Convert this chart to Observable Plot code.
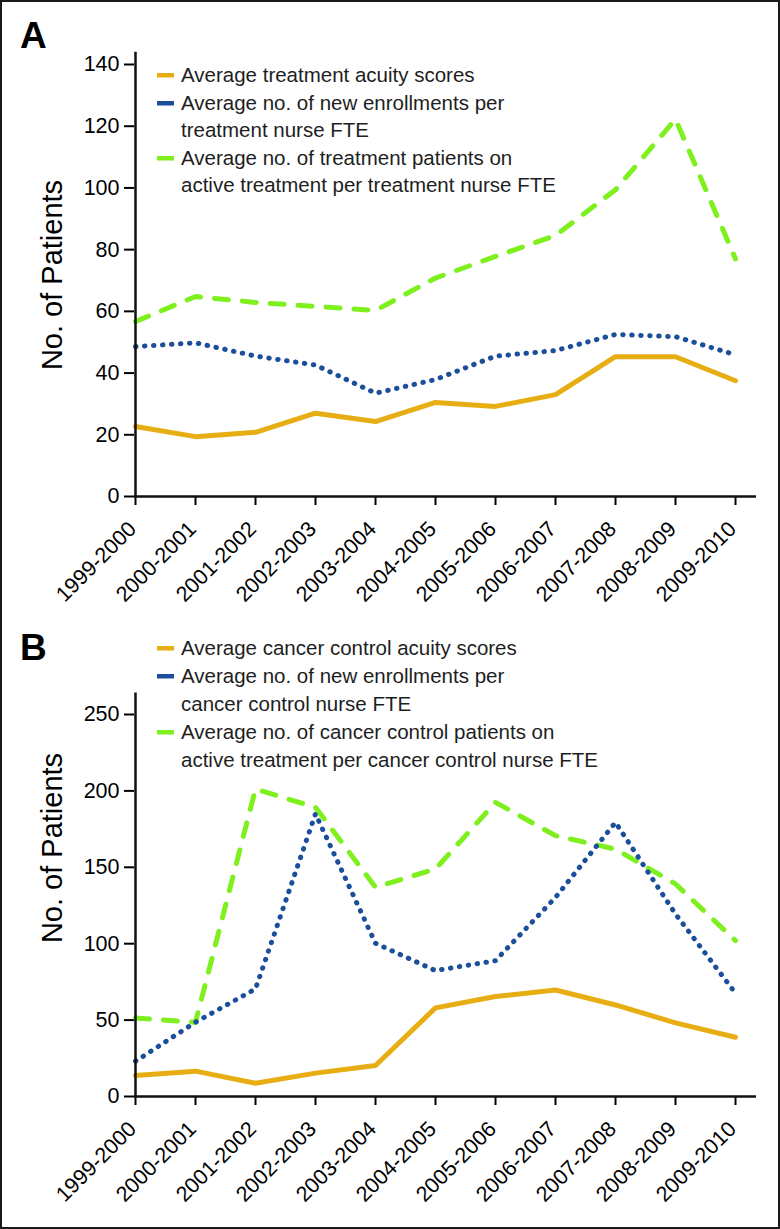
<!DOCTYPE html>
<html>
<head>
<meta charset="utf-8">
<script src="https://cdn.jsdelivr.net/npm/d3@7"></script>
<script src="https://cdn.jsdelivr.net/npm/@observablehq/plot@0.6"></script>
<style>
  html, body { margin: 0; padding: 0; background: #fff; }
  #fig { position: relative; width: 780px; height: 1229px; overflow: hidden; background: #fff; }
  #fig > svg { position: absolute; left: 0; }
  svg.panel text { font-size: 21.5px !important; fill: #000; }
</style>
</head>
<body>
<div id="fig"></div>
<script>
// ---- data ----
const seasons = ["1999-2000","2000-2001","2001-2002","2002-2003","2003-2004","2004-2005","2005-2006","2006-2007","2007-2008","2008-2009","2009-2010"];

const aAcuity = [22.7, 19.4, 20.8, 27.0, 24.3, 30.5, 29.2, 33.0, 45.3, 45.3, 37.5];
const aEnroll = [48.6, 49.8, 45.5, 42.6, 33.5, 37.9, 45.5, 47.3, 52.5, 51.8, 45.9];
const aActive = [56.7, 64.8, 62.9, 61.6, 60.3, 70.8, 77.8, 84.6, 99.4, 122.3, 77.0];

const bAcuity = [13.7, 16.6, 8.7, 15.3, 20.3, 58.0, 65.4, 69.7, 59.9, 48.2, 38.8];
const bEnroll = [23.1, 48.6, 70.4, 185, 100.3, 82.4, 88.9, 130.3, 179.4, 119.4, 67.6];
const bActive = [51.4, 48.6, 201.2, 189.2, 136.9, 148.9, 192.5, 170.7, 161.9, 139.1, 102.0];

const aTicks = [0, 20, 40, 60, 80, 100, 120, 140];
const bTicks = [0, 50, 100, 150, 200, 250];

const legendA = [
  ["Average treatment acuity scores"],
  ["Average no. of new enrollments per", "treatment nurse FTE"],
  ["Average no. of treatment patients on", "active treatment per treatment nurse FTE"]
];
const legendB = [
  ["Average cancer control acuity scores"],
  ["Average no. of new enrollments per", "cancer control nurse FTE"],
  ["Average no. of cancer control patients on", "active treatment per cancer control nurse FTE"]
];

const colors = ["#e7ae14", "#1b4e9b", "#7ef01e"];
const FONT = "'Liberation Sans', Arial, Helvetica, sans-serif";

function rows(vals) { return seasons.map((s, i) => ({s, v: vals[i]})); }

function panel({height, marginTop, marginBottom, domain, ticks, yTop, acuity, enroll, active}) {
  return Plot.plot({
    className: "panel",
    width: 780, height, marginLeft: 134, marginRight: 44, marginTop, marginBottom,
    style: {fontFamily: FONT, fontSize: "21.5px", color: "#000", background: "transparent", overflow: "visible"},
    x: {type: "point", domain: seasons, padding: 0},
    y: {domain, ticks},
    marks: [
      Plot.axisY({ticks, tickSize: 10, tickPadding: 5, strokeWidth: 2, label: null}),
      Plot.axisX({tickSize: 9, strokeWidth: 2, text: null, label: null}),
      Plot.axisX({tickSize: 0, tickPadding: 12, tickRotate: -45, label: null, dx: -3, dy: 17}),
      Plot.line(rows(active), {x: "s", y: "v", stroke: colors[2], strokeWidth: 5, strokeDasharray: "14 14", strokeLinecap: "round"}),
      Plot.line(rows(enroll), {x: "s", y: "v", stroke: colors[1], strokeWidth: 5, strokeDasharray: "0.5 8.5", strokeLinecap: "round"}),
      Plot.line(rows(acuity), {x: "s", y: "v", stroke: colors[0], strokeWidth: 5}),
      Plot.ruleX([seasons[0]], {y1: 0, y2: yTop, stroke: "#111", strokeWidth: 2.5}),
      Plot.ruleY([0], {insetRight: -20, stroke: "#111", strokeWidth: 2.5})
    ]
  });
}

const fig = document.getElementById("fig");

const svgA = panel({height: 570, marginTop: 64, marginBottom: 74, domain: [0, 140], ticks: aTicks, yTop: 144,
  acuity: aAcuity, enroll: aEnroll, active: aActive});
svgA.style.top = "0px";
fig.appendChild(svgA);

const svgB = panel({height: 659, marginTop: 144, marginBottom: 133, domain: [0, 250], ticks: bTicks, yTop: 264,
  acuity: bAcuity, enroll: bEnroll, active: bActive});
svgB.style.top = "570px";
fig.appendChild(svgB);

// ---- overlay: panel letters, axis titles, legends, frame ----
const ov = d3.select(fig).append("svg")
  .attr("width", 780).attr("height", 1229)
  .style("top", "0px").style("pointer-events", "none")
  .style("font-family", FONT);

ov.append("rect").attr("x", 1).attr("y", 1).attr("width", 778).attr("height", 1227)
  .attr("fill", "none").attr("stroke", "#1a1a1a").attr("stroke-width", 2);

ov.append("text").attr("x", 20).attr("y", 48).attr("font-size", 37).attr("font-weight", "bold").attr("fill", "#000").text("A");
ov.append("text").attr("x", 20).attr("y", 660).attr("font-size", 37).attr("font-weight", "bold").attr("fill", "#000").text("B");

function yTitle(cx, cy) {
  ov.append("text").attr("transform", `translate(${cx},${cy}) rotate(-90)`)
    .attr("text-anchor", "middle").attr("font-size", 29).attr("fill", "#000").text("No. of Patients");
}
yTitle(62, 275);
yTitle(62, 848);

function legend(items, baselines, swatchYs) {
  let k = 0;
  items.forEach((lines, i) => {
    ov.append("rect").attr("x", 157).attr("y", swatchYs[i] - 2).attr("width", 17).attr("height", 4.5).attr("fill", colors[i]);
    lines.forEach(line => {
      ov.append("text").attr("x", 181).attr("y", baselines[k++]).attr("font-size", 20.5).attr("fill", "#1e1e1e").text(line);
    });
  });
}
legend(legendA, [82, 110, 137, 165, 192], [75, 103, 158]);
legend(legendB, [655, 683, 711, 739, 767], [648, 676, 732]);
</script>
</body>
</html>
